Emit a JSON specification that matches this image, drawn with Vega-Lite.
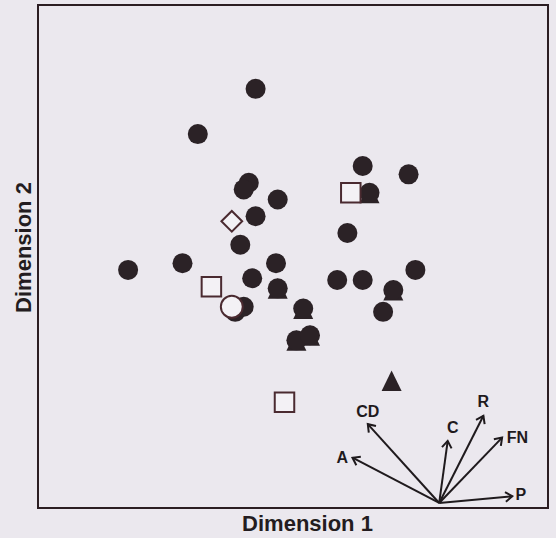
{
  "$schema": "https://vega.github.io/schema/vega-lite/v6.json",
  "description": "Ordination of sites on two dimensions with fitted variable vectors.",
  "width": 510,
  "height": 503,
  "autosize": "none",
  "padding": {"left": 38, "top": 5, "right": 8, "bottom": 30},
  "background": "#ebe8ee",
  "config": {
    "font": "Liberation Sans",
    "view": {"stroke": "#2b1d22", "strokeWidth": 2},
    "axis": {
      "domain": false, "ticks": false, "labels": false, "grid": false,
      "titleFont": "Liberation Sans", "titleFontSize": 22, "titleFontWeight": "bold",
      "titleColor": "#231c20"
    }
  },
  "datasets": {
    "sites": [
      {"d1": 0.45, "d2": 0.38, "group": "triangle"},
      {"d1": -0.09, "d2": -0.19, "group": "triangle"},
      {"d1": 0.59, "d2": -0.2, "group": "triangle"},
      {"d1": 0.06, "d2": -0.31, "group": "triangle"},
      {"d1": 0.02, "d2": -0.5, "group": "triangle"},
      {"d1": 0.1, "d2": -0.47, "group": "triangle"},
      {"d1": 0.58, "d2": -0.74, "group": "triangle"},
      {"d1": -0.22, "d2": 1.0, "group": "circle"},
      {"d1": -0.56, "d2": 0.73, "group": "circle"},
      {"d1": -0.26, "d2": 0.44, "group": "circle"},
      {"d1": -0.29, "d2": 0.4, "group": "circle"},
      {"d1": -0.09, "d2": 0.34, "group": "circle"},
      {"d1": -0.22, "d2": 0.24, "group": "circle"},
      {"d1": -0.31, "d2": 0.07, "group": "circle"},
      {"d1": 0.41, "d2": 0.54, "group": "circle"},
      {"d1": 0.68, "d2": 0.49, "group": "circle"},
      {"d1": 0.45, "d2": 0.38, "group": "circle"},
      {"d1": 0.32, "d2": 0.14, "group": "circle"},
      {"d1": -0.97, "d2": -0.08, "group": "circle"},
      {"d1": -0.65, "d2": -0.04, "group": "circle"},
      {"d1": -0.24, "d2": -0.13, "group": "circle"},
      {"d1": -0.1, "d2": -0.04, "group": "circle"},
      {"d1": -0.09, "d2": -0.19, "group": "circle"},
      {"d1": 0.26, "d2": -0.14, "group": "circle"},
      {"d1": 0.41, "d2": -0.14, "group": "circle"},
      {"d1": 0.72, "d2": -0.08, "group": "circle"},
      {"d1": 0.59, "d2": -0.2, "group": "circle"},
      {"d1": 0.53, "d2": -0.33, "group": "circle"},
      {"d1": 0.06, "d2": -0.31, "group": "circle"},
      {"d1": 0.02, "d2": -0.5, "group": "circle"},
      {"d1": 0.1, "d2": -0.47, "group": "circle"},
      {"d1": -0.34, "d2": -0.33, "group": "circle"},
      {"d1": -0.29, "d2": -0.3, "group": "circle"},
      {"d1": 0.34, "d2": 0.38, "group": "square"},
      {"d1": -0.48, "d2": -0.18, "group": "square"},
      {"d1": -0.05, "d2": -0.87, "group": "square"},
      {"d1": -0.36, "d2": 0.21, "group": "diamond"},
      {"d1": -0.36, "d2": -0.3, "group": "open circle"}
    ],
    "vectors": [
      {"variable": "CD", "x0": 0.86, "y0": -1.47, "x1": 0.44, "y1": -1.0, "lx": 0.44, "ly": -0.93},
      {"variable": "A", "x0": 0.86, "y0": -1.47, "x1": 0.35, "y1": -1.2, "lx": 0.29, "ly": -1.2},
      {"variable": "C", "x0": 0.86, "y0": -1.47, "x1": 0.91, "y1": -1.1, "lx": 0.94, "ly": -1.02},
      {"variable": "R", "x0": 0.86, "y0": -1.47, "x1": 1.12, "y1": -0.95, "lx": 1.12, "ly": -0.87},
      {"variable": "FN", "x0": 0.86, "y0": -1.47, "x1": 1.23, "y1": -1.08, "lx": 1.32, "ly": -1.08},
      {"variable": "P", "x0": 0.86, "y0": -1.47, "x1": 1.29, "y1": -1.43, "lx": 1.34, "ly": -1.42}
    ]
  },
  "layer": [
    {
      "data": {"name": "sites"},
      "transform": [{"filter": "datum.group === 'triangle'"}],
      "mark": {"type": "point", "shape": "M0,-1L-1,1.05L1,1.05Z", "filled": true, "size": 400, "color": "#2b2226", "opacity": 1},
      "encoding": {
        "x": {"field": "d1", "type": "quantitative", "scale": {"domain": [-1.5, 1.5], "nice": false, "zero": false},
          "axis": {"title": "Dimension 1", "titlePadding": 5, "titleX": 269}},
        "y": {"field": "d2", "type": "quantitative", "scale": {"domain": [-1.5, 1.5], "nice": false, "zero": false},
          "axis": {"title": "Dimension 2", "titlePadding": 3, "titleY": 242}}
      }
    },
    {
      "data": {"name": "sites"},
      "transform": [{"filter": "datum.group === 'circle'"}],
      "mark": {"type": "point", "shape": "circle", "filled": true, "size": 400, "color": "#2b2226", "opacity": 1},
      "encoding": {
        "x": {"field": "d1", "type": "quantitative"},
        "y": {"field": "d2", "type": "quantitative"}
      }
    },
    {
      "data": {"name": "sites"},
      "transform": [{"filter": "datum.group !== 'circle' && datum.group !== 'triangle'"}],
      "mark": {"type": "point", "filled": false, "fill": "#f3f1f5", "fillOpacity": 1, "stroke": "#4a2a30", "strokeWidth": 2, "opacity": 1},
      "encoding": {
        "x": {"field": "d1", "type": "quantitative"},
        "y": {"field": "d2", "type": "quantitative"},
        "shape": {"field": "group", "type": "nominal", "legend": null,
          "scale": {"domain": ["square", "diamond", "open circle"], "range": ["square", "diamond", "circle"]}},
        "size": {"field": "group", "type": "nominal", "legend": null,
          "scale": {"domain": ["square", "diamond", "open circle"], "range": [380, 480, 400]}}
      }
    },
    {
      "data": {"name": "vectors"},
      "mark": {"type": "rule", "color": "#1f1a1d", "strokeWidth": 2},
      "encoding": {
        "x": {"field": "x0", "type": "quantitative"},
        "y": {"field": "y0", "type": "quantitative"},
        "x2": {"field": "x1"},
        "y2": {"field": "y1"}
      }
    },
    {
      "data": {"name": "vectors"},
      "transform": [{"calculate": "atan2(datum.x1 - datum.x0, datum.y1 - datum.y0) * 180 / PI", "as": "heading"}],
      "mark": {"type": "point", "shape": "M-0.7,1L0,0L0.7,1", "filled": false, "size": 190, "stroke": "#1f1a1d", "strokeWidth": 2, "opacity": 1},
      "encoding": {
        "x": {"field": "x1", "type": "quantitative"},
        "y": {"field": "y1", "type": "quantitative"},
        "angle": {"field": "heading", "type": "quantitative", "scale": null}
      }
    },
    {
      "data": {"name": "vectors"},
      "mark": {"type": "text", "font": "Liberation Sans", "fontSize": 16, "fontWeight": "bold", "color": "#1f1a1d", "align": "center", "baseline": "middle"},
      "encoding": {
        "x": {"field": "lx", "type": "quantitative"},
        "y": {"field": "ly", "type": "quantitative"},
        "text": {"field": "variable"}
      }
    }
  ]
}
